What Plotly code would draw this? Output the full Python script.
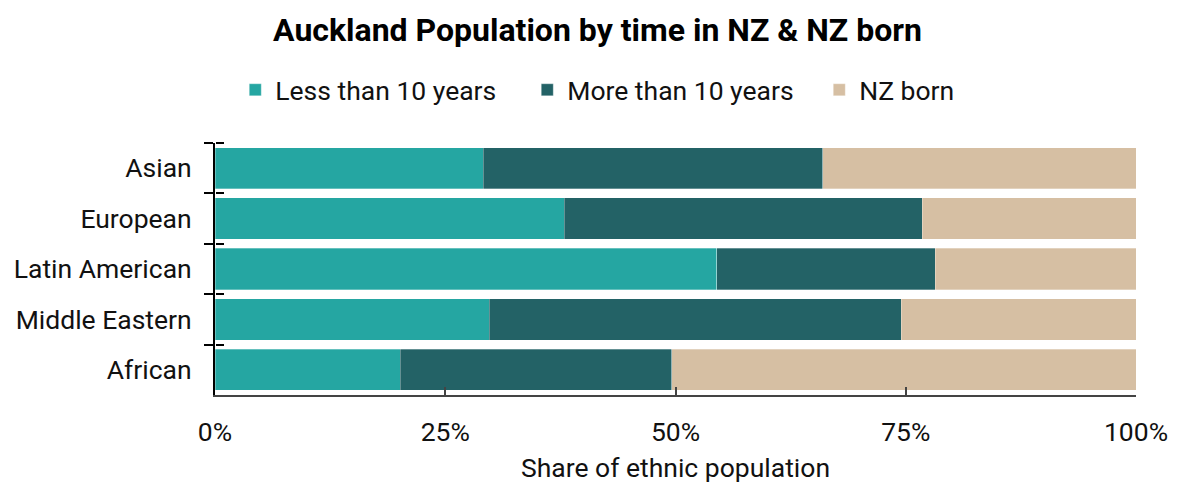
import plotly.graph_objects as go

categories = ["Asian", "European", "Latin American", "Middle Eastern", "African"]
less_than_10 = [0.291, 0.379, 0.545, 0.298, 0.201]
more_than_10 = [0.369, 0.389, 0.237, 0.447, 0.295]
nz_born = [round(1 - a - b, 3) for a, b in zip(less_than_10, more_than_10)]

series_names = ["Less than 10 years", "More than 10 years", "NZ born"]
series_values = [less_than_10, more_than_10, nz_born]
colors = ["#25A6A2", "#236266", "#D6BFA3"]

fig = go.Figure()
for name, vals, col in zip(series_names, series_values, colors):
    fig.add_trace(go.Bar(
        y=categories, x=vals, name=name, orientation="h",
        marker=dict(color=col, line=dict(color="rgba(255,255,255,0.6)", width=0.5)),
    ))

# helper trace for second y-axis (boundary ticks pointing into the plot)
fig.add_trace(go.Scatter(
    y=categories, x=[0] * len(categories), yaxis="y2", mode="markers",
    marker=dict(opacity=0), showlegend=False, hoverinfo="skip",
))

font = "Roboto, Arial, sans-serif"
fig.update_layout(
    width=1179, height=484,
    barmode="stack", bargap=0.18,
    plot_bgcolor="white", paper_bgcolor="white",
    font=dict(family=font, size=26.5, color="#111"),
    margin=dict(l=207, r=51, t=135, b=97, autoexpand=False),
    title=dict(text="<b>Auckland Population by time in NZ & NZ born</b>",
               x=0.5, xanchor="center", y=0.955, yanchor="middle",
               font=dict(size=32, color="#000")),
    legend=dict(orientation="h", x=0.022, xanchor="left", y=1.21, yanchor="middle",
                font=dict(size=26.5, color="#111"), traceorder="normal",
                itemwidth=30, entrywidth=247),
    xaxis=dict(range=[0, 1], tickvals=[0, 0.25, 0.5, 0.75, 1], tickformat=".0%",
               ticks="inside", ticklen=8, tickcolor="#444", tickwidth=2,
               showline=True, linecolor="#444", linewidth=2, automargin=False,
               showgrid=False, zeroline=False, ticklabelstandoff=12,
               title=dict(text="Share of ethnic population", standoff=13,
                          font=dict(size=26.5))),
    yaxis=dict(type="category", categoryorder="array", categoryarray=categories,
               range=[4.5, -0.5], ticks="outside", ticklen=9, tickwidth=2,
               tickcolor="#000", tickson="boundaries", automargin=False,
               showline=True, linecolor="#000", linewidth=2, showgrid=False,
               ticklabelstandoff=16),
    yaxis2=dict(type="category", categoryorder="array", categoryarray=categories,
                overlaying="y", anchor="free", position=0, side="right",
                range=[4.5, -0.5], ticks="outside", ticklen=8, automargin=False,
                tickwidth=2, tickcolor="#000", tickson="boundaries",
                showticklabels=False, showline=False, showgrid=False,
                layer="above traces"),
)

fig.write_html("out.html")
